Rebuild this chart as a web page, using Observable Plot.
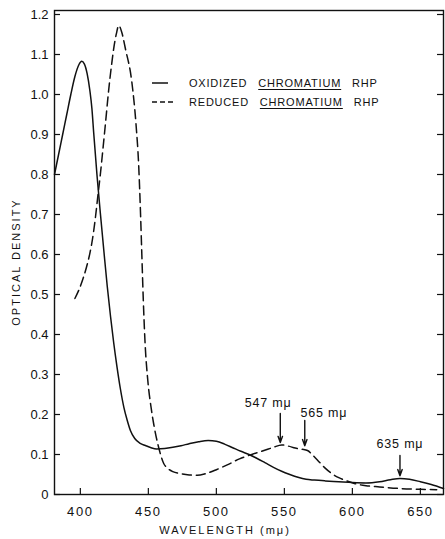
<!DOCTYPE html>
<html>
<head>
<meta charset="utf-8">
<script src="https://cdn.jsdelivr.net/npm/d3@7"></script>
<script src="https://cdn.jsdelivr.net/npm/@observablehq/plot@0.6"></script>
<style>
  body { margin: 0; background: #fff; }
  #wrap { position: relative; width: 445px; height: 539px; font-family: "Liberation Sans", Arial, sans-serif; color: #111; }
  #wrap svg [aria-label="x-axis tick label"] text { letter-spacing: 1.6px; }
  #wrap svg [aria-label="text"] text { letter-spacing: 0.8px; }
  .lbl { position: absolute; font-size: 11px; letter-spacing: 2px; white-space: nowrap; }
  .leg { position: absolute; font-size: 11px; letter-spacing: 0.8px; word-spacing: 7px; white-space: nowrap; line-height: 12px; }
  .leg .u { text-decoration: underline; text-underline-offset: 2px; }
  .leg svg { vertical-align: middle; position: relative; top: -1px; }
</style>
</head>
<body>
<div id="wrap"></div>
<script>
// Oxidized Chromatium RHP (solid)
const oxWave = [381,384,387,390,393,396,399,401,403,405,407,408.5,409.8,412.2,414.8,417.4,419.8,422.2,424.5,427,429.4,432,434.5,436.8,440,444,447.8,452,456,462,468,474,480,487,494,500,506,512,518,524,530,536,542,548,554,560,566,572,580,590,600,610,620,628,635,642,650,658,667];
const oxOD   = [0.80,0.85,0.90,0.95,1.00,1.045,1.075,1.083,1.076,1.052,1.01,0.965,0.905,0.80,0.70,0.605,0.52,0.445,0.38,0.318,0.265,0.218,0.185,0.16,0.14,0.128,0.1225,0.117,0.114,0.115,0.118,0.122,0.127,0.132,0.135,0.133,0.126,0.117,0.108,0.10,0.09,0.079,0.068,0.058,0.05,0.043,0.038,0.036,0.034,0.032,0.03,0.029,0.032,0.037,0.04,0.038,0.032,0.025,0.015];
// Reduced Chromatium RHP (dashed)
const redWave = [396,399,402,404.5,407,409,411,413,414.7,416.5,418.4,420.8,422.8,424.5,426.5,428.2,430.5,433.1,437.9,441,442.9,444.3,445.3,446.3,447.5,449.6,451.8,454,457.6,461.3,464,468,474,480,486,492,500,508,517,526,535,542,548,553,558,563,567,571,576,580,585,590,595,602,610,620,635,650,662];
const redOD   = [0.49,0.512,0.54,0.568,0.603,0.64,0.69,0.75,0.80,0.86,0.925,1.01,1.07,1.114,1.152,1.1725,1.155,1.115,1.03,0.9225,0.8225,0.6975,0.59,0.485,0.385,0.285,0.2225,0.175,0.1175,0.0775,0.066,0.057,0.052,0.049,0.048,0.052,0.062,0.074,0.089,0.10,0.11,0.118,0.124,0.121,0.116,0.113,0.11,0.098,0.08,0.066,0.052,0.042,0.035,0.027,0.022,0.019,0.015,0.013,0.012];

// Annotations
const annoLabels = ["547 m\u03bc", "565 m\u03bc", "635 m\u03bc"];
const annoWave   = [547, 565, 635];
const annoTip    = [0.13, 0.122, 0.047];
const annoTail   = [0.2025, 0.185, 0.0975];
const annoTextX  = [538, 579, 635];
const annoTextY  = [0.23, 0.205, 0.127];

// Ticks
const xTicks = [400, 450, 500, 550, 600, 650];
const yTicks = [0, 0.1, 0.2, 0.3, 0.4, 0.5, 0.6, 0.7, 0.8, 0.9, 1.0, 1.1, 1.2];

// Legend
const legNames = ["OXIDIZED", "REDUCED"];
const legDash = [null, "5,3"];

const ox = oxWave.map((w, i) => ({w, v: oxOD[i]}));
const red = redWave.map((w, i) => ({w, v: redOD[i]}));
const anno = annoLabels.map((t, i) => ({t, x: annoWave[i], tip: annoTip[i], tail: annoTail[i], tx: annoTextX[i], ty: annoTextY[i]}));

const W = 445, H = 539, mL = 54, mR = 2, mT = 10, mB = 45;
const innerW = W - mL - mR, innerH = H - mT - mB;

const chart = Plot.plot({
  width: W, height: H,
  marginLeft: mL, marginRight: mR, marginTop: mT, marginBottom: mB,
  style: {fontFamily: "'Liberation Sans', Arial, sans-serif", color: "#111", background: "#fff"},
  x: {domain: [381, 667]},
  y: {domain: [0, 1.21]},
  marks: [
    Plot.axisX(xTicks, {tickSize: 0, tickPadding: 12, fontSize: 13, label: null}),
    Plot.axisY(yTicks, {tickSize: 0, tickPadding: 6, fontSize: 13, label: null, tickFormat: d => d === 0 ? "0" : d.toFixed(1)}),
    Plot.tickX(xTicks, {x: d => d, insetTop: innerH - 6, stroke: "#111", strokeWidth: 1.2}),
    Plot.tickY(yTicks, {y: d => d, insetRight: innerW - 6, stroke: "#111", strokeWidth: 1.2}),
    Plot.tickY(yTicks, {y: d => d, insetLeft: innerW - 6, stroke: "#111", strokeWidth: 1.2}),
    Plot.frame({stroke: "#111", strokeWidth: 1.4}),
    Plot.line(ox, {x: "w", y: "v", stroke: "#111", strokeWidth: 1.5, curve: "monotone-x"}),
    Plot.line(red, {x: "w", y: "v", stroke: "#111", strokeWidth: 1.5, strokeDasharray: "9,5", curve: "monotone-x"}),
    Plot.arrow(anno, {x1: "x", x2: "x", y1: "tail", y2: "tip", stroke: "#111", strokeWidth: 1.4, headLength: 7, headAngle: 40}),
    Plot.text(anno, {x: "tx", y: "ty", text: "t", fontSize: 12.5, fill: "#111"})
  ]
});

const wrap = document.getElementById("wrap");
wrap.appendChild(chart);

// Legend
const leg = document.createElement("div");
leg.className = "leg";
leg.style.left = "152px";
leg.style.top = "77px";
legNames.forEach((name, i) => {
  const row = document.createElement("div");
  row.style.height = "19px";
  const ns = "http://www.w3.org/2000/svg";
  const s = document.createElementNS(ns, "svg");
  s.setAttribute("width", "24");
  s.setAttribute("height", "4");
  s.style.marginRight = "13px";
  const l = document.createElementNS(ns, "line");
  l.setAttribute("x1", "0"); l.setAttribute("x2", legDash[i] ? "23" : "16");
  l.setAttribute("y1", "2"); l.setAttribute("y2", "2");
  l.setAttribute("stroke", "#111"); l.setAttribute("stroke-width", "1.5");
  if (legDash[i]) l.setAttribute("stroke-dasharray", legDash[i]);
  s.appendChild(l);
  row.appendChild(s);
  row.appendChild(document.createTextNode(name + " "));
  const u = document.createElement("span");
  u.className = "u";
  u.textContent = "CHROMATIUM";
  row.appendChild(u);
  row.appendChild(document.createTextNode(" RHP"));
  leg.appendChild(row);
});
wrap.appendChild(leg);

// Axis titles
const xl = document.createElement("div");
xl.className = "lbl";
xl.textContent = "WAVELENGTH (m\u03bc)";
xl.style.left = "225px";
xl.style.top = "530px";
xl.style.transform = "translate(-50%, -50%)";
wrap.appendChild(xl);

const yl = document.createElement("div");
yl.className = "lbl";
yl.textContent = "OPTICAL DENSITY";
yl.style.left = "16px";
yl.style.top = "262px";
yl.style.transform = "translate(-50%, -50%) rotate(-90deg)";
wrap.appendChild(yl);
</script>
</body>
</html>
